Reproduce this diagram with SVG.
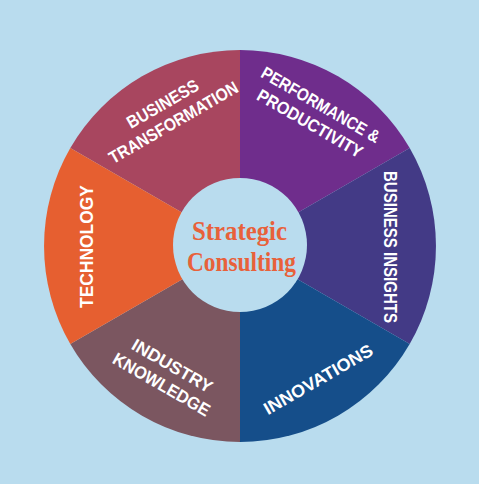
<svg xmlns="http://www.w3.org/2000/svg" width="479" height="484" viewBox="0 0 479 484">
<style>
.lbl{font-family:"Liberation Sans",Arial,sans-serif;font-weight:700;font-size:17.5px;fill:#ffffff;text-anchor:middle}
.ctr{font-family:"Liberation Serif","Times New Roman",serif;font-weight:700;font-size:28px;fill:#e8613a;text-anchor:middle}
</style>
<rect width="479" height="484" fill="#b9dcee"/>
<g id="business-transformation">
<path d="M240,246 L240,50 A196,196 0 0 0 70.3,148 Z" fill="#a8465f"/>
<g transform="translate(168,113) rotate(-30)"><text class="lbl" y="-4.5" textLength="80" lengthAdjust="spacingAndGlyphs">BUSINESS</text><text class="lbl" y="17" textLength="146" lengthAdjust="spacingAndGlyphs">TRANSFORMATION</text></g>
</g>
<g id="performance-productivity">
<path d="M240,246 L240,50 A196,196 0 0 1 409.7,148 Z" fill="#6f2d8c"/>
<g transform="translate(315.5,114) rotate(30)"><text class="lbl" y="-4.5" textLength="134" lengthAdjust="spacingAndGlyphs">PERFORMANCE &amp;</text><text class="lbl" y="17" textLength="119" lengthAdjust="spacingAndGlyphs">PRODUCTIVITY</text></g>
</g>
<g id="business-insights">
<path d="M240,246 L409.7,148 A196,196 0 0 1 409.7,344 Z" fill="#433a86"/>
<g transform="translate(390,247) rotate(90)"><text class="lbl" y="6.5" textLength="152" lengthAdjust="spacingAndGlyphs">BUSINESS INSIGHTS</text></g>
</g>
<g id="innovations">
<path d="M240,246 L409.7,344 A196,196 0 0 1 240,442 Z" fill="#154e8a"/>
<g transform="translate(318,379) rotate(-30)"><text class="lbl" y="6.5" textLength="123" lengthAdjust="spacingAndGlyphs">INNOVATIONS</text></g>
</g>
<g id="industry-knowledge">
<path d="M240,246 L240,442 A196,196 0 0 1 70.3,344 Z" fill="#7b5660"/>
<g transform="translate(167,375) rotate(30)"><text class="lbl" y="-4.5" textLength="90" lengthAdjust="spacingAndGlyphs">INDUSTRY</text><text class="lbl" y="17" textLength="109" lengthAdjust="spacingAndGlyphs">KNOWLEDGE</text></g>
</g>
<g id="technology">
<path d="M240,246 L70.3,344 A196,196 0 0 1 70.3,148 Z" fill="#e65f30"/>
<g transform="translate(86.5,246.5) rotate(-90)"><text class="lbl" y="6.5" textLength="123" lengthAdjust="spacingAndGlyphs">TECHNOLOGY</text></g>
</g>
<g id="center">
<circle cx="240" cy="245" r="67" fill="#b9dcee"/>
<text class="ctr" x="239.5" y="240" textLength="95" lengthAdjust="spacingAndGlyphs">Strategic</text>
<text class="ctr" x="241.5" y="271" textLength="109" lengthAdjust="spacingAndGlyphs">Consulting</text>
</g>
</svg>
